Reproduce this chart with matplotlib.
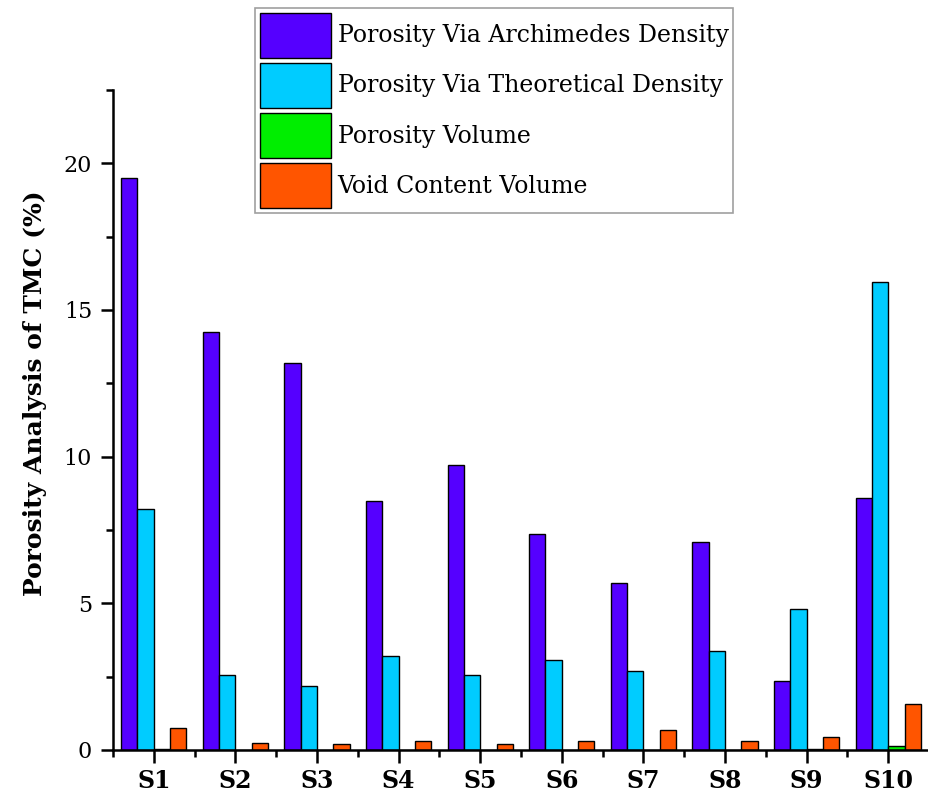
import matplotlib.pyplot as plt
import numpy as np
from matplotlib.ticker import MultipleLocator

samples = ["S1", "S2", "S3", "S4", "S5", "S6", "S7", "S8", "S9", "S10"]
archimedes = [19.5, 14.25, 13.2, 8.5, 9.7, 7.35, 5.7, 7.1, 2.35, 8.6]
theoretical = [8.2, 2.56, 2.19, 3.22, 2.54, 3.08, 2.7, 3.38, 4.81, 15.97]
porosity_volume = [0.05, 0.0, 0.0, 0.0, 0.0, 0.0, 0.0, 0.0, 0.02, 0.15]
void_content = [0.76, 0.23, 0.2, 0.31, 0.22, 0.31, 0.68, 0.31, 0.46, 1.57]

series = [
    ("Porosity Via Archimedes Density", archimedes, "#5500ff"),
    ("Porosity Via Theoretical Density", theoretical, "#00ccff"),
    ("Porosity Volume", porosity_volume, "#00ee00"),
    ("Void Content Volume", void_content, "#ff5500"),
]

plt.rcParams["font.family"] = ["DejaVu Serif"]

fig = plt.figure(figsize=(9.29, 8.0), dpi=100)
ax = fig.add_axes([113 / 929, 50 / 800, 1 - 113 / 929, 660 / 800])

x = np.arange(1, len(samples) + 1)
width = 0.2
for i, (label, vals, color) in enumerate(series):
    ax.bar(x + (i - 1.5) * width, vals, width, color=color,
           edgecolor="black", linewidth=1.0, label=label)

ax.set_xlim(0.5, 10.5)
ax.set_ylim(0, 22.5)
ax.set_xticks(x)
ax.set_xticklabels(samples, fontweight="bold", fontsize=17)
ax.xaxis.set_minor_locator(MultipleLocator(1, offset=0.5))
ax.yaxis.set_major_locator(MultipleLocator(5))
ax.yaxis.set_minor_locator(MultipleLocator(2.5))
for lbl in ax.get_yticklabels():
    lbl.set_fontsize(16)

ax.tick_params(axis="both", which="major", direction="out", length=9, width=1.8)
ax.tick_params(axis="both", which="minor", direction="out", length=5, width=1.8)
ax.tick_params(axis="x", which="major", pad=5)
ax.tick_params(axis="y", which="major", pad=6)

for side in ("top", "right"):
    ax.spines[side].set_visible(False)
for side in ("left", "bottom"):
    ax.spines[side].set_linewidth(1.8)

ax.set_ylabel("Porosity Analysis of TMC (%)", fontweight="bold", fontsize=18)
ax.yaxis.set_label_coords(-66 / 816, (750 - 393) / 660)

leg = fig.legend(loc="upper left", bbox_to_anchor=(255 / 929, 1 - 8 / 800),
                 fontsize=17, frameon=True, fancybox=False,
                 handlelength=3.0, handleheight=2.55, labelspacing=0.22,
                 handletextpad=0.3, borderpad=0.2, borderaxespad=0.0)
leg.get_frame().set_edgecolor("#888888")
leg.get_frame().set_linewidth(1.2)

fig.savefig("out.png", dpi=100)
